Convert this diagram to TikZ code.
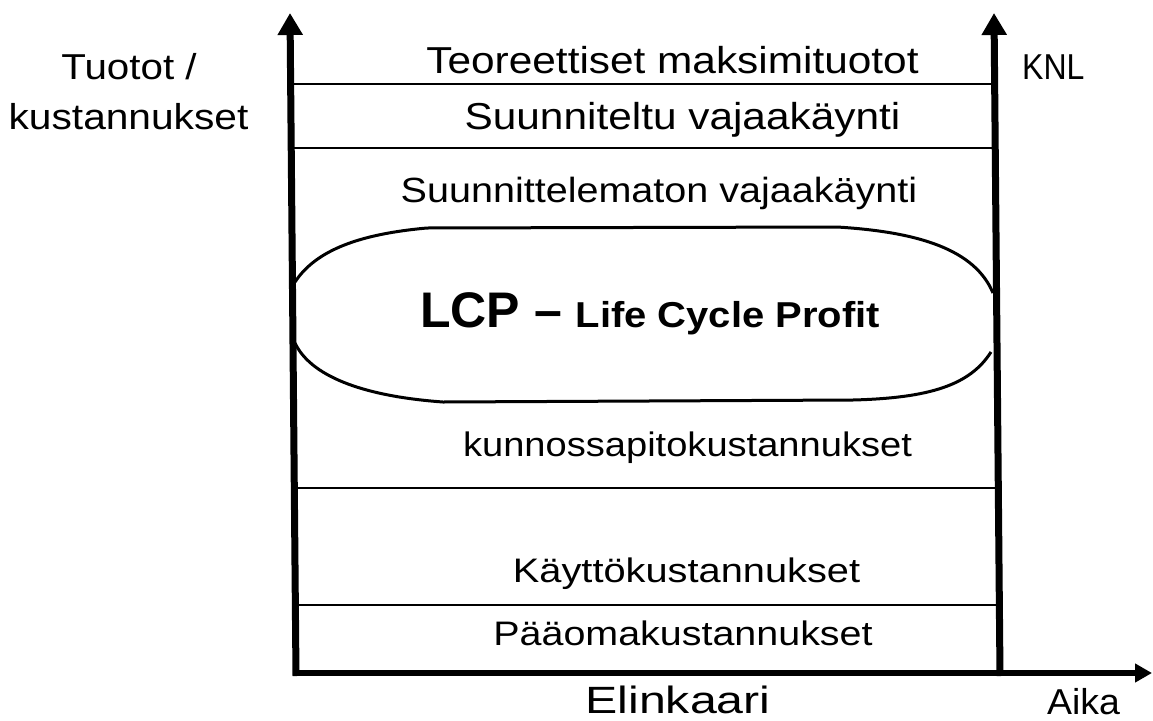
\documentclass[tikz,border=0pt]{standalone}
\usepackage{fontspec}
\setmainfont{Liberation Sans}
\usepackage{graphicx}
\usetikzlibrary{arrows.meta}
\newcommand\fsz[1]{\fontsize{#1}{#1}\selectfont}
\newcommand\hstretch[2]{\scalebox{#1}[1]{#2}}
\begin{document}
\begin{tikzpicture}[x=1pt,y=-1pt,
  vaxis/.style={line width=7pt,-{Triangle[length=22pt,width=24pt]}},
  haxis/.style={line width=6pt,-{Triangle[length=17pt,width=18pt]}},
  band/.style={line width=1.5pt},
  profit/.style={line width=3pt},
  lbl/.style={anchor=base,inner sep=0pt}]
\useasboundingbox (0,0) rectangle (1153,720);

% axes
\coordinate (lbot) at (296,676);
\coordinate (ltop) at (290,13);
\coordinate (rbot) at (1000,676);
\coordinate (rtop) at (994,13);
\coordinate (hstart) at (293,673);
\coordinate (hend) at (1152,673);
\draw[vaxis] (lbot) -- (ltop);
\draw[vaxis] (rbot) -- (rtop);
\draw[haxis] (hstart) -- (hend);

% band boundaries
\draw[band] (293,84) -- (994,84);
\draw[band] (293,148) -- (995,148);
\draw[band] (294,488) -- (998,488);
\draw[band] (295,605) -- (999,605);

% profit region outline
\draw[profit] (295,282) .. controls (316,250) and (360,234) .. (427,228)
  -- (837,227) .. controls (920,232) and (975,250) .. (993,293);
\draw[profit] (295,343) .. controls (310,375) and (360,396) .. (443,402)
  -- (853,400) .. controls (930,398) and (970,385) .. (991,352);

% labels
\node[lbl,font=\fsz{36}] (tuo1) at (129,79) {\hstretch{1.12}{Tuotot /}};
\node[lbl,font=\fsz{36}] (tuo2) at (128.5,129) {\hstretch{1.13}{kustannukset}};
\node[lbl,anchor=base west,font=\fsz{36}] (knl) at (1022,79) {\hstretch{0.89}{KNL}};
\node[lbl,font=\fsz{37.5}] (teo) at (672.5,73) {\hstretch{1.13}{Teoreettiset maksimituotot}};
\node[lbl,font=\fsz{37.5}] (suu) at (682.5,129) {\hstretch{1.13}{Suunniteltu vajaakäynti}};
\node[lbl,font=\fsz{35}] (suv) at (659,202) {\hstretch{1.13}{Suunnittelematon vajaakäynti}};
\node[lbl,anchor=base west,font=\fsz{50}\bfseries] (lcp) at (420,327)
  {LCP – {\fsz{36}\hstretch{1.11}{Life Cycle Profit}}};
\node[lbl,font=\fsz{34}] (kun) at (687.5,456) {\hstretch{1.12}{kunnossapitokustannukset}};
\node[lbl,font=\fsz{34}] (kay) at (686.5,582) {\hstretch{1.17}{Käyttökustannukset}};
\node[lbl,font=\fsz{34}] (paa) at (683,645) {\hstretch{1.16}{Pääomakustannukset}};
\node[lbl,font=\fsz{38}] (eli) at (678,713) {\hstretch{1.27}{Elinkaari}};
\node[lbl,anchor=base west,font=\fsz{36}] (aik) at (1047,714) {\hstretch{1.04}{Aika}};
\end{tikzpicture}
\end{document}
